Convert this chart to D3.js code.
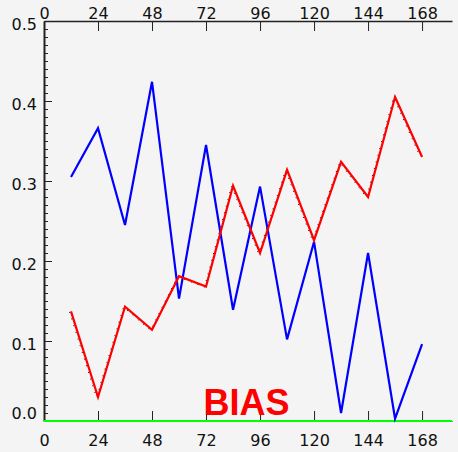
<!DOCTYPE html>
<html>
<head>
<meta charset="utf-8">
<script src="https://cdn.jsdelivr.net/npm/d3@7"></script>
<style>
  html, body { margin: 0; padding: 0; background: #f4f4f4; }
  svg { display: block; }
  .axis text { font-family: "DejaVu Sans", sans-serif; font-size: 16px; fill: #111; }
  .axis path, .axis line { stroke: #222; }
</style>
</head>
<body>
<script>
// Forecast hour of each verification point
const hours = [12, 24, 36, 48, 60, 72, 84, 96, 108, 120, 132, 144, 156, 168];

// Bias of each series
const blueBias = [0.305, 0.366, 0.245, 0.424, 0.153, 0.345, 0.139, 0.293, 0.102, 0.224, 0.010, 0.210, 0.003, 0.096];
const redBias  = [0.137, 0.030, 0.143, 0.114, 0.181, 0.168, 0.294, 0.210, 0.314, 0.226, 0.324, 0.280, 0.405, 0.330];

// Axis tick labels
const xTicks = [0, 24, 48, 72, 96, 120, 144, 168];
const yTicks = [0.0, 0.1, 0.2, 0.3, 0.4, 0.5];
const yMinorTicks = d3.range(0, 51).map(i => i / 100);

const width = 458, height = 452;
const margin = { left: 44, right: 6, top: 21, bottom: 31 };

const svg = d3.select("body").append("svg")
  .attr("width", width)
  .attr("height", height);

svg.append("rect").attr("width", width).attr("height", height).attr("fill", "#f4f4f4");

const x = d3.scaleLinear().domain([0, 181.3]).range([margin.left, width - margin.right]);
const y = d3.scaleLinear().domain([0, 0.5]).range([height - margin.bottom, margin.top]);

// Top axis (ticks point into the plot)
const topAxis = svg.append("g").attr("class", "axis")
  .attr("transform", `translate(0,${margin.top})`)
  .call(d3.axisTop(x).tickValues(xTicks).tickFormat(d3.format("d"))
    .tickSizeInner(-10).tickSizeOuter(0).tickPadding(2));
topAxis.select(".domain").attr("stroke-width", 1.5);

// Bottom axis
svg.append("g").attr("class", "axis")
  .attr("transform", `translate(0,${height - margin.bottom})`)
  .call(d3.axisBottom(x).tickValues(xTicks).tickFormat(d3.format("d"))
    .tickSizeInner(-10).tickSizeOuter(0).tickPadding(14));

// Left axis: minor ticks then major ticks with labels
svg.append("g").attr("class", "axis")
  .attr("transform", `translate(${margin.left},0)`)
  .call(d3.axisLeft(y).tickValues(yMinorTicks).tickFormat("")
    .tickSizeInner(-4).tickSizeOuter(0))
  .select(".domain").attr("stroke-width", 2);

const leftAxis = svg.append("g").attr("class", "axis")
  .attr("transform", `translate(${margin.left},0)`)
  .call(d3.axisLeft(y).tickValues(yTicks).tickFormat(d3.format(".1f"))
    .tickSizeInner(-8).tickSizeOuter(0).tickPadding(7));
leftAxis.select(".domain").remove();
leftAxis.selectAll(".tick text").attr("y", d => d === 0 ? -8 : 3);

// Zero-bias reference line
svg.append("line")
  .attr("x1", x(0)).attr("x2", width - margin.right)
  .attr("y1", y(0)).attr("y2", y(0))
  .attr("stroke", "#00ff00").attr("stroke-width", 2);

const line = d3.line().x(d => x(d[0])).y(d => y(d[1]));

// Black trace showing through under the red series
svg.append("path")
  .datum(d3.zip(hours, redBias))
  .attr("fill", "none").attr("stroke", "#000").attr("stroke-width", 1)
  .attr("stroke-dasharray", "1 6")
  .attr("transform", "translate(-1.5,0.5)")
  .attr("d", line);

svg.append("path")
  .datum(d3.zip(hours, blueBias))
  .attr("fill", "none").attr("stroke", "#0000ff").attr("stroke-width", 2.2)
  .attr("stroke-linejoin", "miter")
  .attr("d", line);

svg.append("path")
  .datum(d3.zip(hours, redBias))
  .attr("fill", "none").attr("stroke", "#ff0000").attr("stroke-width", 2.2)
  .attr("stroke-linejoin", "miter")
  .attr("d", line);

// Panel title
svg.append("text")
  .attr("x", x(90)).attr("y", 415)
  .attr("text-anchor", "middle")
  .attr("font-family", "Liberation Sans, Arial, sans-serif")
  .attr("font-weight", "bold")
  .attr("font-size", 36)
  .attr("fill", "#ff0000")
  .text("BIAS");
</script>
</body>
</html>
